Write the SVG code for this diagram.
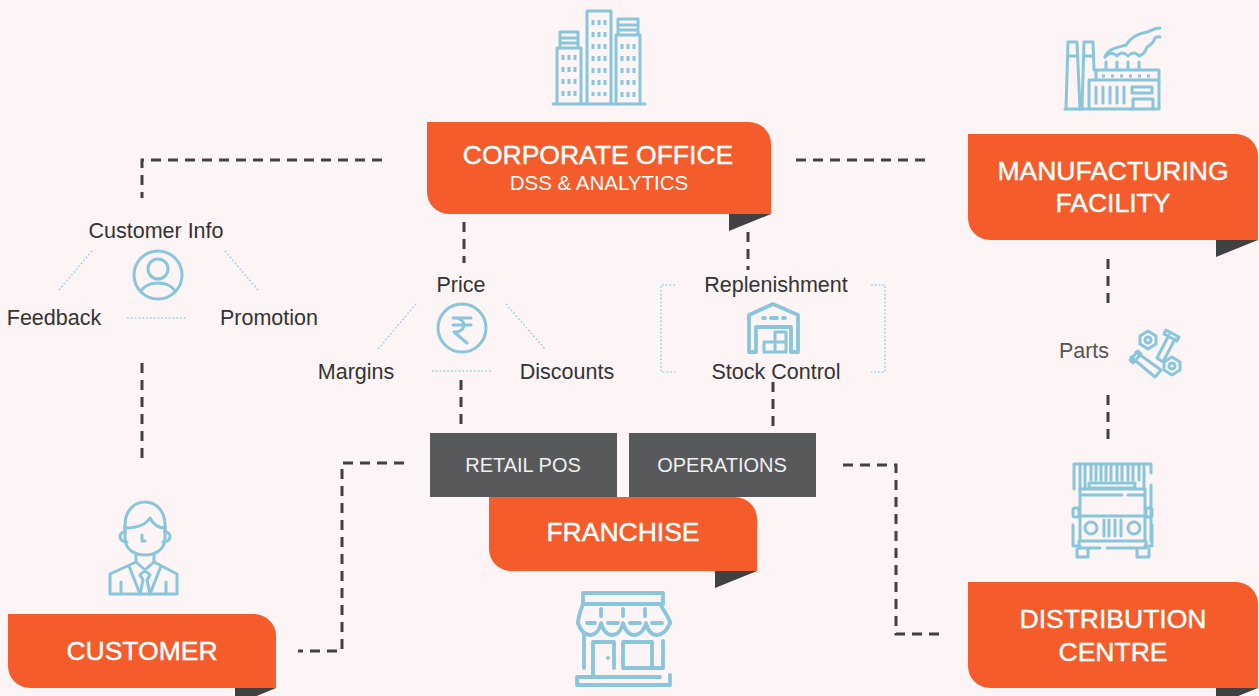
<svg xmlns="http://www.w3.org/2000/svg" width="1259" height="696" viewBox="0 0 1259 696">
<style>
text{font-family:"Liberation Sans",Arial,sans-serif}
.o{fill:#f45d2b}.t{fill:#414042}
.h{fill:#fff;stroke:#fff;stroke-width:.45px;font-size:26.5px;text-anchor:middle}
.s{fill:#fff;font-size:20.5px;text-anchor:middle}
.g{fill:#58595b}
.l{fill:#333;font-size:21.5px;text-anchor:middle}
.d{fill:none;stroke:#414042;stroke-width:3;stroke-dasharray:10 7}
.p{fill:none;stroke:#9fd2e5;stroke-width:1.5;stroke-dasharray:1.8 2}
.i{fill:none;stroke:#8ac6db;stroke-width:3;stroke-linecap:round;stroke-linejoin:round}
.w{stroke-width:3.8}
.f{fill:#8ac6db}
</style>
<rect width="1259" height="696" fill="#fdf4f5"/>
<g id="connectors">
<path class="d" d="M382 160H142V198"/>
<path class="d" d="M142 363V462"/>
<path class="d" d="M796 160H928"/>
<path class="d" d="M464 222V263"/>
<path class="d" d="M748 232V270"/>
<path class="d" d="M461 380V428"/>
<path class="d" d="M773 382V430"/>
<path class="d" d="M1108 259V307"/>
<path class="d" d="M1108 395V443"/>
<path class="d" d="M404 463H342V651H298"/>
<path class="d" d="M843 465H896V634H944"/>
<path class="p" d="M92 251L59 290M225 251L258 290M127 318H187"/>
<path class="p" d="M416 304L378 349M506 304L545 349M432 371H491"/>
<path class="p" d="M675 285H661V372H675M871 285H885V372H871"/>
</g>
<g id="corporate-office">
<g class="i">
<path d="M557 104V48H581V104M560 48V32H578V48M560 38H578M560 43H578"/>
<path d="M587 104V11H611V104"/>
<path d="M616 104V35H640V104M618 35V19H638V35M618 25H638M618 30H638"/>
<path d="M553 104H645"/>
</g>
<path class="i" stroke-dasharray="5 7" style="stroke-linecap:butt" d="M563 55V98M569 55V98M575 55V98M593 20V96M599 20V96M605 20V96M622 44V98M628 44V98M634 44V98"/>
<path class="o" d="M427 122H749A22 22 0 0 1 771 144V214H449A22 22 0 0 1 427 192Z"/>
<path class="t" d="M729 214H771L729 231Z"/>
<text class="h" x="598" y="164">CORPORATE OFFICE</text>
<text class="s" x="599" y="190">DSS &amp; ANALYTICS</text>
</g>
<g id="manufacturing-facility">
<g class="i">
<path d="M1066 109L1068 42H1077L1080 109M1082 109L1084 42H1093L1094 70M1068 56H1077M1084 56H1093"/>
<path d="M1065 109H1159V70H1096V80M1089 109V80H1159"/>
<path d="M1106 62V69M1117 62V69M1128 62V69M1139 62V69"/>
<path d="M1105 57C1108 48 1120 47 1126 45C1130 38 1136 34 1147 32C1152 31 1153 28 1160 28"/>
<path d="M1105 57Q1111 50 1117 56Q1122 50 1128 56Q1134 50 1139 56Q1145 54 1147 47Q1153 44 1155 38Q1157 36 1160 37"/>
<path d="M1132 87H1152V93H1132ZM1133 109V99H1153V109"/>
<path d="M1096 87V103M1103 87V103M1110 87V103M1117 87V103M1124 87V103"/>
<path stroke-dasharray="3 6" style="stroke-linecap:butt" d="M1102 76H1154"/>
</g>
<path class="o" d="M968 134H1236A22 22 0 0 1 1258 156V240H990A22 22 0 0 1 968 218Z"/>
<path class="t" d="M1216 240H1258L1216 257Z"/>
<text class="h" x="1113" y="180">MANUFACTURING</text>
<text class="h" x="1113" y="212">FACILITY</text>
</g>
<g id="customer-info">
<text class="l" x="156" y="238">Customer Info</text>
<text class="l" x="54" y="325">Feedback</text>
<text class="l" x="269" y="325">Promotion</text>
<circle class="i" cx="158" cy="275" r="24"/>
<circle class="i" cx="158" cy="269" r="10"/>
<path class="i" d="M141 292C145 280 171 280 175 292"/>
</g>
<g id="price">
<text class="l" x="461" y="292">Price</text>
<text class="l" x="356" y="379">Margins</text>
<text class="l" x="567" y="379">Discounts</text>
<circle class="i" cx="462" cy="328" r="24"/>
<path class="i" d="M453 318H471M453 325H471M455 318C466 318 468 332 454 332L467 343"/>
</g>
<g id="stock">
<text class="l" x="776" y="292">Replenishment</text>
<text class="l" x="776" y="379">Stock Control</text>
<path class="i w" d="M749 352V315L773 304L798 315V352H791V327H756V352ZM763 318H765M771 318H777M783 318H785"/>
<path class="i" d="M764 342H775V352H764ZM775 342H786V352H775ZM775 332H786V342H775Z"/>
</g>
<g id="parts">
<text class="l" x="1084" y="358" style="fill:#555">Parts</text>
<g class="i">
<path d="M1148 331L1156 336V344L1148 349L1140 344V336Z"/>
<circle cx="1148" cy="340" r="3"/>
<path d="M1172 357L1180 362V370L1172 375L1164 370V362Z"/>
<circle cx="1172" cy="366" r="3"/>
<path d="M1169 335L1157 358L1163 362L1175 339M1166 330L1179 337L1177 341L1164 334Z"/>
<path d="M1136 352L1161 370L1155 377L1131 357M1130 360L1138 351L1141 354L1133 363Z"/>
</g>
</g>
<g id="retail-pos">
<rect class="g" x="430" y="433" width="187" height="64"/>
<text class="s" x="523" y="472" style="font-size:20px;fill:#f0f0f0">RETAIL POS</text>
</g>
<g id="operations">
<rect class="g" x="629" y="433" width="187" height="64"/>
<text class="s" x="722" y="472" style="font-size:20px;fill:#f0f0f0">OPERATIONS</text>
</g>
<g id="franchise">
<path class="o" d="M489 497H735A22 22 0 0 1 757 519V571H511A22 22 0 0 1 489 549Z"/>
<path class="t" d="M715 571H757L715 588Z"/>
<text class="h" x="623" y="541">FRANCHISE</text>
<g class="i w">
<path d="M583 593H663V604H583ZM583 604C580 612 578 618 578 623M660 604C664 612 670 618 670 623"/>
<path d="M601 609V616M623 609V616M645 609V616"/>
<path d="M587 623H595M608 623H618M630 623H640M652 623H662"/>
<path d="M578 623C584 640 598 638 601 623C606 640 620 638 623 623C628 640 642 638 646 623C650 640 664 638 670 623"/>
<path d="M584 634V668M663 641V668H623V642H652V668M593 675V642H614V668"/>
<path d="M670 675V685H577V677H660"/>
</g>
<circle class="f" cx="608" cy="658" r="2"/>
</g>
<g id="distribution-centre">
<g class="i">
<path d="M1074 489V464H1151V473M1151 485V541"/>
<path d="M1080 464V489M1085 464V489M1091 464V480M1096 464V480M1101 464V480M1106 464V480M1111 464V480M1117 464V480M1122 464V480M1128 464V480M1133 464V480M1139 464V480M1144 464V489"/>
<rect x="1089" y="483" width="46" height="5"/>
<path d="M1080 489H1145V541H1080ZM1080 495H1122M1128 495H1145M1080 516H1145"/>
<rect x="1073" y="508" width="6" height="9" rx="2"/>
<rect x="1146" y="508" width="6" height="9" rx="2"/>
<path d="M1073 525V546H1080M1152 525V546H1145"/>
<circle cx="1091" cy="528" r="6"/><circle cx="1134" cy="528" r="6"/>
<path d="M1104 520V536M1109 520V536M1115 520V536M1121 520V536"/>
<path d="M1079 541V548H1100M1107 548H1146V541"/>
<path d="M1077 549V557H1088V549M1137 549V557H1149V549"/>
</g>
<path class="o" d="M968 582H1236A22 22 0 0 1 1258 604V688H990A22 22 0 0 1 968 666Z"/>
<path class="t" d="M1216 688H1258L1216 705Z"/>
<text class="h" x="1113" y="628">DISTRIBUTION</text>
<text class="h" x="1113" y="661">CENTRE</text>
</g>
<g id="customer">
<g class="i">
<path d="M125 530V525C125 510 135 502 145 502C157 502 165 512 165 525V532"/>
<path d="M125 528C135 528 145 526 150 518C153 524 158 528 165 528"/>
<path d="M125 526V538C125 550 135 555 145 555C155 555 165 550 165 538V526"/>
<path d="M125 532C118 532 118 542 127 542M165 532C172 532 172 542 163 542"/>
<path d="M142 535V541H145"/>
<path d="M136 556V562L110 574V594H177V574L154 562V556"/>
<path d="M129 566L140 594M161 566L150 594M136 562L145 570L154 562M145 570L140 575L143 580M145 570L150 575L147 580M143 580L140 594M147 580L150 594M121 582V594M166 582V594"/>
</g>
<path class="o" d="M8 614H254A22 22 0 0 1 276 636V688H30A22 22 0 0 1 8 666Z"/>
<path class="t" d="M235 688H276L235 705Z"/>
<text class="h" x="142" y="660">CUSTOMER</text>
</g>
</svg>
